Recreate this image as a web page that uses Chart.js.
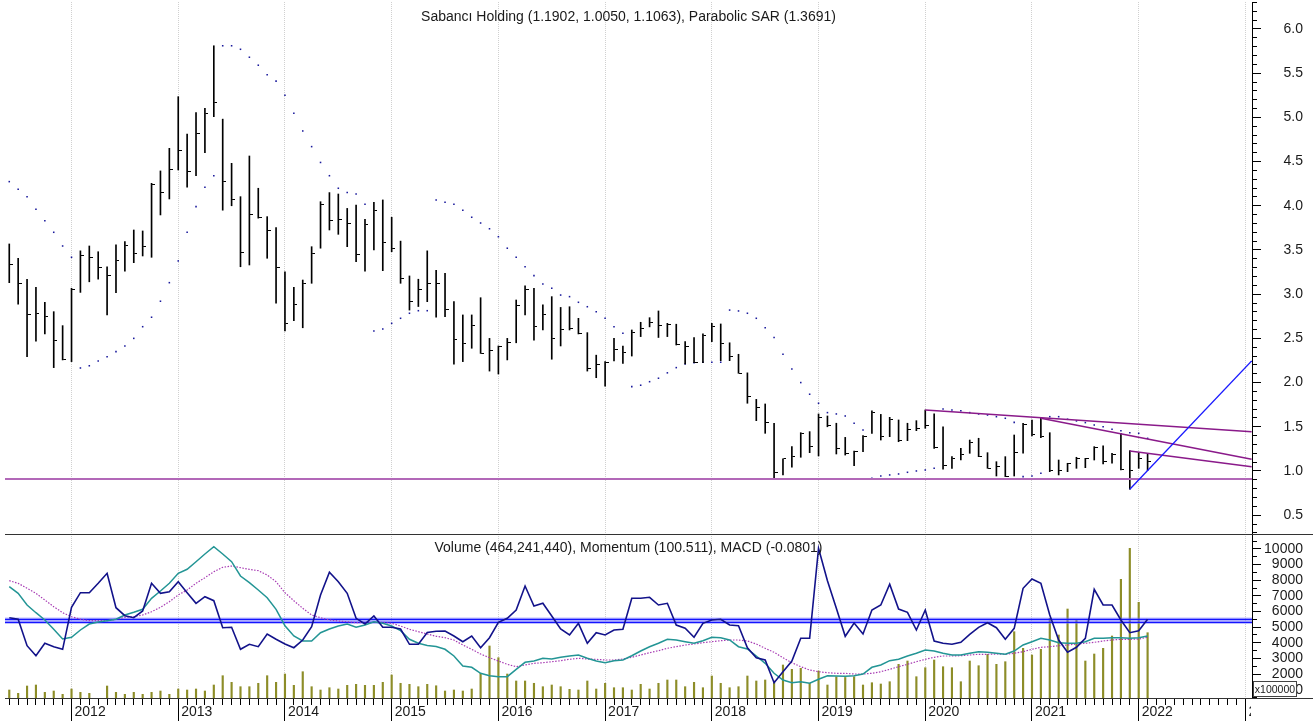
<!DOCTYPE html>
<html lang="tr">
<head>
<meta charset="utf-8">
<title>Sabancı Holding</title>
<script src="https://cdn.jsdelivr.net/npm/chart.js@4.4.1/dist/chart.umd.min.js"></script>
<style>
  html, body { margin: 0; padding: 0; background: #fff; }
  #stage { position: relative; width: 1313px; height: 724px; overflow: hidden; font-family: "Liberation Sans", Arial, sans-serif; }
  #priceChart { position: absolute; left: 0; top: 0; }
  #lowerChart { position: absolute; left: 0; top: 534px; }
  .rule { position: absolute; height: 1px; background: #333; }
  #labelMask { position: absolute; left: 1251px; top: 700px; width: 62px; height: 24px; background: #fff; }
  #unitTag { position: absolute; left: 1253px; top: 681px; width: 42px; height: 14px; border: 1px solid #444; background: #fff;
             font-size: 10.5px; line-height: 14px; text-align: center; color: #1a1a1a; }
</style>
</head>
<body>
<div id="stage">
  <canvas id="priceChart" width="1313" height="534"></canvas>
  <canvas id="lowerChart" width="1313" height="190"></canvas>
  <div class="rule" style="left:5px; top:534px; width:1308px;"></div>
  <div class="rule" style="left:1252px; top:698px; width:61px;"></div>
  <div id="labelMask"></div>
  <div id="unitTag">x100000</div>
</div>
<script>
Chart.defaults.font.family = '"Liberation Sans", Arial, sans-serif';
Chart.defaults.font.size = 14;
Chart.defaults.color = '#1a1a1a';

// monthly bars, index 0 = Jun 2011 ... index 128 = Feb 2022
const high = [
  3.568, 3.406, 3.169, 3.078, 2.908, 2.802, 2.644, 3.067, 3.49, 3.545,
  3.48, 3.31, 3.557, 3.594, 3.726, 3.715, 4.254, 4.394, 4.65, 5.234,
  4.81, 5.053, 5.103, 5.81, 4.98, 4.48, 4.103, 4.563, 4.198, 3.877,
  3.752, 3.254, 3.078, 3.16, 3.537, 4.046, 4.149, 4.133, 3.97, 4.009,
  3.847, 4.04, 4.066, 3.87, 3.60, 3.206, 3.169, 3.49, 3.27, 3.236,
  2.915, 2.765, 2.765, 2.96, 2.50, 2.414, 2.50, 2.934, 3.093, 3.067,
  2.878, 2.972, 2.85, 2.858, 2.727, 2.565, 2.31, 2.237, 2.50, 2.414,
  2.595, 2.682, 2.734, 2.81, 2.67, 2.66, 2.463, 2.51, 2.55, 2.67,
  2.663, 2.45, 2.32, 2.11, 1.81, 1.758, 1.54, 1.136, 1.275, 1.433,
  1.445, 1.645, 1.622, 1.54, 1.38, 1.226, 1.40, 1.679, 1.64, 1.607,
  1.577, 1.54, 1.569, 1.69, 1.645, 1.50, 1.162, 1.256, 1.35, 1.37,
  1.207, 1.105, 1.162, 1.407, 1.54, 1.577, 1.603, 1.433, 1.124, 1.087,
  1.155, 1.143, 1.275, 1.283, 1.20, 1.426, 1.23, 1.207, 1.1902
];
const low = [
  3.13, 2.886, 2.293, 2.467, 2.55, 2.169, 2.256, 2.237, 3.02, 3.14,
  3.17, 2.765, 3.017, 3.26, 3.356, 3.432, 3.417, 3.896, 4.077, 4.405,
  4.209, 4.34, 4.6, 5.008, 3.95, 4.0, 3.31, 3.33, 3.86, 3.406,
  2.897, 2.584, 2.70, 2.62, 3.123, 3.52, 3.726, 3.677, 3.537, 3.368,
  3.26, 3.50, 3.266, 3.48, 3.123, 2.82, 2.86, 2.915, 2.74, 2.745,
  2.207, 2.237, 2.388, 2.33, 2.13, 2.097, 2.256, 2.45, 2.765, 2.48,
  2.595, 2.264, 2.414, 2.595, 2.55, 2.13, 2.055, 1.96, 2.244, 2.218,
  2.30, 2.52, 2.63, 2.51, 2.52, 2.425, 2.21, 2.225, 2.225, 2.463,
  2.248, 2.248, 2.105, 1.766, 1.569, 1.426, 0.917, 0.955, 1.042, 1.155,
  1.207, 1.17, 1.50, 1.192, 1.18, 1.06, 1.218, 1.426, 1.35, 1.388,
  1.331, 1.343, 1.456, 1.483, 1.256, 1.019, 1.03, 1.124, 1.20, 1.162,
  1.03, 0.943, 0.936, 0.943, 1.20, 1.396, 1.377, 0.992, 0.955, 0.992,
  1.03, 1.037, 1.124, 1.079, 1.087, 1.011, 0.793, 1.03, 1.005
];
const close = [
  3.33, 3.123, 2.765, 2.776, 2.746, 2.474, 2.264, 3.05, 3.44, 3.417,
  3.30, 3.206, 3.376, 3.545, 3.46, 3.537, 4.246, 4.153, 4.413, 4.63,
  4.386, 4.82, 5.04, 5.166, 4.28, 4.066, 3.474, 3.896, 3.866, 3.715,
  3.30, 2.67, 2.878, 3.123, 3.455, 4.01, 3.83, 3.85, 3.80, 3.45,
  3.79, 3.945, 3.58, 3.52, 3.18, 2.915, 3.055, 3.123, 3.123, 2.83,
  2.49, 2.437, 2.644, 2.33, 2.36, 2.406, 2.45, 2.87, 3.05, 2.632,
  2.765, 2.50, 2.60, 2.614, 2.55, 2.16, 2.207, 2.225, 2.37, 2.338,
  2.565, 2.614, 2.682, 2.644, 2.652, 2.425, 2.406, 2.225, 2.538, 2.632,
  2.437, 2.293, 2.105, 1.848, 1.72, 1.55, 0.985, 1.136, 1.162, 1.426,
  1.275, 1.607, 1.52, 1.249, 1.20, 1.218, 1.388, 1.664, 1.395, 1.585,
  1.35, 1.472, 1.483, 1.52, 1.264, 1.06, 1.143, 1.19, 1.32, 1.162,
  1.03, 1.049, 0.943, 1.21, 1.528, 1.407, 1.388, 1.01, 1.003, 1.079,
  1.143, 1.136, 1.268, 1.105, 1.19, 1.019, 1.0, 1.143, 1.1063
];
const sar = [
  4.273, 4.187, 4.103, 3.96, 3.83, 3.70, 3.545, 3.417, 2.165, 2.19,
  2.244, 2.293, 2.35, 2.414, 2.50, 2.632, 2.739, 2.92, 3.13, 3.376,
  3.70, 3.99, 4.21, 4.34, 5.81, 5.81, 5.77, 5.68, 5.59, 5.483,
  5.41, 5.25, 5.046, 4.846, 4.669, 4.49, 4.34, 4.198, 4.149, 4.133,
  4.017, 2.584, 2.606, 2.67, 2.727, 2.784, 2.813, 2.813, 4.066, 4.04,
  4.017, 3.95, 3.87, 3.805, 3.74, 3.65, 3.52, 3.417, 3.31, 3.21,
  3.115, 3.067, 2.99, 2.972, 2.908, 2.858, 2.80, 2.727, 2.632, 2.557,
  1.954, 1.97, 2.01, 2.049, 2.11, 2.169, 2.21, 2.225, 2.23, 2.23,
  2.23, 2.82, 2.81, 2.784, 2.727, 2.62, 2.51, 2.32, 2.154, 2.0,
  1.868, 1.766, 1.66, 1.645, 1.622, 1.54, 1.464, 0.917, 0.943, 0.955,
  0.966, 0.985, 1.0, 1.011, 1.03, 1.70, 1.69, 1.682, 1.66, 1.645,
  1.633, 1.614, 1.596, 1.55, 0.936, 0.943, 0.974, 1.614, 1.614, 1.585,
  1.566, 1.547, 1.52, 1.50, 1.472, 1.456, 1.433, 1.426, 1.3691
];

// lower panel, all in the units of its right axis (x100000)
const volume = [
  978, 767, 1234, 1298, 831, 914, 703, 1042, 831, 767,
  250, 1234, 831, 703, 831, 703, 831, 914, 703, 1042,
  978, 1042, 914, 1298, 1893, 1470, 1190, 1190, 1407, 1893,
  1470, 2001, 1279, 2148, 1190, 978, 1125, 1042, 1279, 1343,
  1279, 1279, 1470, 1937, 1407, 1343, 1190, 1343, 1250, 914,
  978, 914, 1042, 2046, 3792, 3044, 2001, 1554, 1554, 1407,
  1190, 1298, 1190, 1023, 978, 1554, 1042, 1407, 1125, 1125,
  978, 1343, 1042, 1407, 1618, 1618, 1190, 1470, 1125, 1873,
  1407, 1125, 1190, 1873, 1554, 1618, 1554, 2577, 2302, 2366,
  1407, 2193, 1298, 1829, 1780, 1829, 1298, 1445, 1362, 1509,
  2621, 2832, 1829, 2404, 2896, 2468, 2404, 1509, 2832, 2532,
  3261, 2621, 2788, 4706, 3644, 3216, 3581, 5563, 4495, 6157,
  5499, 2832, 3280, 3644, 4431, 8056, 10038, 6586, 4642
];
const momentum = [
  5601, 5499, 3811, 3171, 3964, 3747, 3581, 6266, 7200, 7200,
  7801, 8440, 6241, 5729, 5601, 6030, 7801, 7161, 7264, 7903,
  7200, 6522, 6944, 6688, 4962, 4987, 3581, 3900, 3747, 4559,
  4220, 3920, 3683, 4175, 5026, 7053, 8504, 7903, 7161, 5563,
  5198, 5710, 4987, 4987, 4879, 3900, 3900, 4655, 4732, 4751,
  4431, 4067, 4431, 3683, 4322, 5307, 5563, 6094, 7628, 6349,
  6522, 5710, 4879, 4495, 5243, 3964, 4642, 4495, 4815, 4859,
  6842, 6842, 6906, 6413, 6522, 5134, 4923, 4348, 5243, 5454,
  5499, 5134, 5090, 3683, 3044, 2896, 1445, 2148, 2833, 4284,
  4284, 10039, 7967, 6202, 4412, 5262, 4559, 6094, 6413, 7737,
  6157, 5946, 4815, 6094, 4111, 3964, 3900, 4028, 4540, 4987,
  5281, 4962, 4220, 4923, 7481, 8076, 7801, 5774, 4175, 3389,
  3709, 4284, 7417, 6413, 6413, 5454, 4642, 4770, 5499
];
const macd = [
  7583, 7161, 6413, 5921, 5454, 4859, 4239, 4348, 4815, 5198,
  5326, 5409, 5499, 5774, 5946, 6138, 6842, 7308, 7801, 8440,
  8696, 9182, 9674, 10141, 9674, 9182, 8267, 7839, 7372, 6880,
  6138, 5090, 4431, 4111, 4111, 4642, 4879, 5070, 5198, 4987,
  5134, 5345, 5243, 5070, 4770, 4220, 3964, 3824, 3760, 3581,
  3152, 2513, 2430, 2046, 1893, 1829, 1829, 2302, 2749, 2833,
  3005, 2960, 3069, 3152, 3216, 3005, 2833, 2724, 2852, 2896,
  3171, 3472, 3747, 3964, 4220, 4175, 4067, 3964, 4131, 4348,
  4322, 4175, 3747, 3600, 3152, 2685, 2046, 1618, 1445, 1509,
  1407, 1662, 1893, 1873, 1854, 1886, 2001, 2430, 2577, 2852,
  2941, 3152, 3325, 3536, 3472, 3325, 3216, 3216, 3325, 3427,
  3389, 3325, 3261, 3472, 3856, 4067, 4284, 4175, 4003, 3964,
  3964, 4067, 4284, 4284, 4322, 4322, 4284, 4322, 4431
];
const signal = [
  7967, 7801, 7481, 7161, 6733, 6305, 5921, 5665, 5499, 5409,
  5409, 5409, 5499, 5627, 5665, 5774, 5985, 6266, 6624, 7053,
  7372, 7801, 8159, 8542, 8824, 8907, 8798, 8696, 8607, 8332,
  7903, 7200, 6688, 6202, 5774, 5601, 5454, 5390, 5345, 5281,
  5307, 5307, 5307, 5243, 5070, 4859, 4706, 4559, 4412, 4322,
  4175, 3856, 3581, 3280, 3044, 2833, 2622, 2468, 2577, 2685,
  2724, 2788, 2852, 2941, 3005, 2960, 2941, 2896, 2896, 2960,
  3069, 3216, 3363, 3491, 3645, 3747, 3856, 3920, 4003, 4067,
  4131, 4175, 4175, 4111, 3920, 3645, 3389, 3044, 2724, 2468,
  2257, 2148, 2084, 2046, 2046, 2001, 2001, 2046, 2148, 2302,
  2468, 2622, 2788, 2941, 3069, 3152, 3152, 3171, 3216, 3261,
  3261, 3280, 3261, 3325, 3427, 3581, 3709, 3747, 3811, 3856,
  3920, 3964, 4028, 4111, 4175, 4220, 4220, 4239, 4348
];
const refLevels = [5499, 5307];

// drawn studies: [month index, price]
const supportLevel = 0.91;
const channelLines = [
  [[103, 1.69], [139.7, 1.445]],
  [[116, 1.596], [139.7, 1.132]],
  [[126, 1.226], [139.7, 1.049]]
];
const breakoutLine = [[126, 0.793], [139.7, 2.245]];

const years = ['2012', '2013', '2014', '2015', '2016', '2017', '2018', '2019', '2020', '2021', '2022', '2023'];
const firstJan = 7;          // Jan 2012
const lastTick = 139;        // Jan 2023
const X_MIN = -0.48, X_MAX = 139.74;

const isYear = v => v >= firstJan && (v - firstJan) % 12 === 0;
const isHalf = v => Math.abs(v * 2 - Math.round(v * 2)) < 1e-9;
const noPad = s => { s.paddingLeft = 0; s.paddingRight = 0; s.paddingTop = 0; s.paddingBottom = 0; };
const pts = arr => arr.map((y, x) => ({ x, y }));
const seg = line => line.map(([x, y]) => ({ x, y }));
const flat = y => [{ x: X_MIN, y }, { x: X_MAX, y }];

function closeTick() {
  const c = document.createElement('canvas');
  c.width = 7; c.height = 1;
  const g = c.getContext('2d');
  g.fillStyle = '#000';
  g.fillRect(4, 0, 3, 1);
  return c;
}

const panelTitle = {
  id: 'panelTitle',
  afterDraw(chart, _args, opts) {
    const { ctx, chartArea } = chart;
    ctx.save();
    ctx.font = '14px "Liberation Sans", Arial, sans-serif';
    ctx.fillStyle = '#1a1a1a';
    ctx.textAlign = 'center';
    ctx.textBaseline = 'middle';
    ctx.fillText(opts.text, (chartArea.left + chartArea.right) / 2, chartArea.top + opts.dy);
    ctx.restore();
  }
};

const GRID = '#d0d0d0';

// price panel
new Chart(document.getElementById('priceChart'), {
  type: 'line',
  data: {
    datasets: [
      { type: 'line', data: seg(breakoutLine), borderColor: '#1a1aff', borderWidth: 1.3, pointRadius: 0, clip: 0 },
      ...channelLines.map(l => ({ type: 'line', data: seg(l), borderColor: '#8a1a8a', borderWidth: 1.5, pointRadius: 0, clip: 0 })),
      { type: 'line', data: flat(supportLevel), borderColor: '#b268b8', borderWidth: 2, pointRadius: 0, clip: 0 },
      { type: 'scatter', data: pts(close), pointStyle: closeTick(), pointRadius: 3, pointBorderWidth: 0 },
      { type: 'bar', data: low.map((l, i) => ({ x: i, y: [l, high[i]] })), backgroundColor: '#000', barThickness: 1, grouped: false },
      { type: 'scatter', data: pts(sar), pointStyle: 'rect', pointRadius: 1.1, backgroundColor: '#1a1a9c', pointBorderWidth: 0 }
    ]
  },
  options: {
    responsive: false, animation: false, events: [],
    layout: { autoPadding: false, padding: { left: 5, right: 10, top: 2, bottom: 0 } },
    plugins: {
      legend: { display: false }, tooltip: { enabled: false },
      panelTitle: { text: 'Sabancı Holding (1.1902, 1.0050, 1.1063), Parabolic SAR (1.3691)', dy: 15.3 }
    },
    scales: {
      x: {
        type: 'linear', min: X_MIN, max: X_MAX, offset: false, bounds: 'data',
        afterBuildTicks: s => { s.ticks = years.map((_, k) => ({ value: firstJan + 12 * k })); },
        afterFit: s => { s.height = 0; noPad(s); },
        ticks: { display: false },
        grid: { offset: false, drawTicks: false, color: GRID, lineWidth: 1 },
        border: { display: false, dash: [1, 1] }
      },
      y: {
        type: 'linear', position: 'right', min: 0.287, max: 6.305, bounds: 'data',
        afterBuildTicks: s => { s.ticks = Array.from({ length: 61 }, (_, k) => ({ value: (3 + k) / 10 })); },
        afterFit: s => { s.width = 51; noPad(s); },
        ticks: { autoSkip: false, crossAlign: 'far', callback: v => isHalf(v) ? v.toFixed(1) : '' },
        grid: {
          drawOnChartArea: false, drawTicks: true, tickLength: 9, tickColor: '#000', tickWidth: 1,
          tickBorderDash: c => (c.tick && isHalf(c.tick.value)) ? [] : [4, 40]
        },
        border: { display: true, color: '#000', width: 1 }
      }
    }
  },
  plugins: [panelTitle]
});

// volume / momentum / MACD panel
new Chart(document.getElementById('lowerChart'), {
  type: 'line',
  data: {
    datasets: [
      { type: 'line', data: pts(momentum), borderColor: '#12128a', borderWidth: 1.6, pointRadius: 0 },
      { type: 'line', data: pts(macd), borderColor: '#239595', borderWidth: 1.5, pointRadius: 0 },
      { type: 'line', data: pts(signal), borderColor: '#a83cb4', borderWidth: 1.2, borderDash: [1.5, 1.5], pointRadius: 0 },
      ...refLevels.map(v => ({ type: 'line', data: flat(v), borderColor: '#1414ff', borderWidth: 1.2, pointRadius: 0, clip: 0 })),
      ...refLevels.map(v => ({ type: 'line', data: flat(v), borderColor: 'rgba(110,110,255,0.45)', borderWidth: 3.5, pointRadius: 0, clip: 0 })),
      { type: 'bar', data: pts(volume), backgroundColor: '#8d8d28', barThickness: 1.5, grouped: false, clip: 0 }
    ]
  },
  options: {
    responsive: false, animation: false, events: [],
    layout: { autoPadding: false, padding: { left: 5, right: 10, top: 0, bottom: 0 } },
    plugins: {
      legend: { display: false }, tooltip: { enabled: false },
      panelTitle: { text: 'Volume (464,241,440), Momentum (100.511), MACD (-0.0801)', dy: 14.3 }
    },
    scales: {
      x: {
        type: 'linear', min: X_MIN, max: X_MAX, offset: false, bounds: 'data',
        afterBuildTicks: s => { s.ticks = Array.from({ length: lastTick + 1 }, (_, i) => ({ value: i })); },
        afterFit: s => { s.height = 26; noPad(s); },
        ticks: {
          autoSkip: false, maxRotation: 0, minRotation: 0, align: 'start', labelOffset: 3, padding: -17,
          callback: v => isYear(v) ? years[(v - firstJan) / 12] : ''
        },
        grid: {
          offset: false, drawTicks: true, tickLength: 23, lineWidth: 1,
          color: c => (c.tick && isYear(c.tick.value)) ? GRID : 'rgba(0,0,0,0)',
          tickColor: '#000', tickWidth: 1,
          tickBorderDash: c => (c.tick && isYear(c.tick.value)) ? [] : [6, 40]
        },
        border: { display: true, color: '#333', width: 1, dash: [1, 1] }
      },
      y: {
        type: 'linear', position: 'right', min: 467, max: 10953, bounds: 'data',
        afterBuildTicks: s => { s.ticks = Array.from({ length: 21 }, (_, k) => ({ value: 500 + 500 * k })); },
        afterFit: s => { s.width = 51; noPad(s); },
        ticks: { autoSkip: false, crossAlign: 'far', callback: v => v % 1000 === 0 ? String(v) : '' },
        grid: {
          drawOnChartArea: false, drawTicks: true, tickLength: 9, tickColor: '#000', tickWidth: 1,
          tickBorderDash: c => (c.tick && c.tick.value % 1000 === 0) ? [] : [4, 40]
        },
        border: { display: true, color: '#000', width: 1 }
      }
    }
  },
  plugins: [panelTitle]
});
</script>
</body>
</html>
